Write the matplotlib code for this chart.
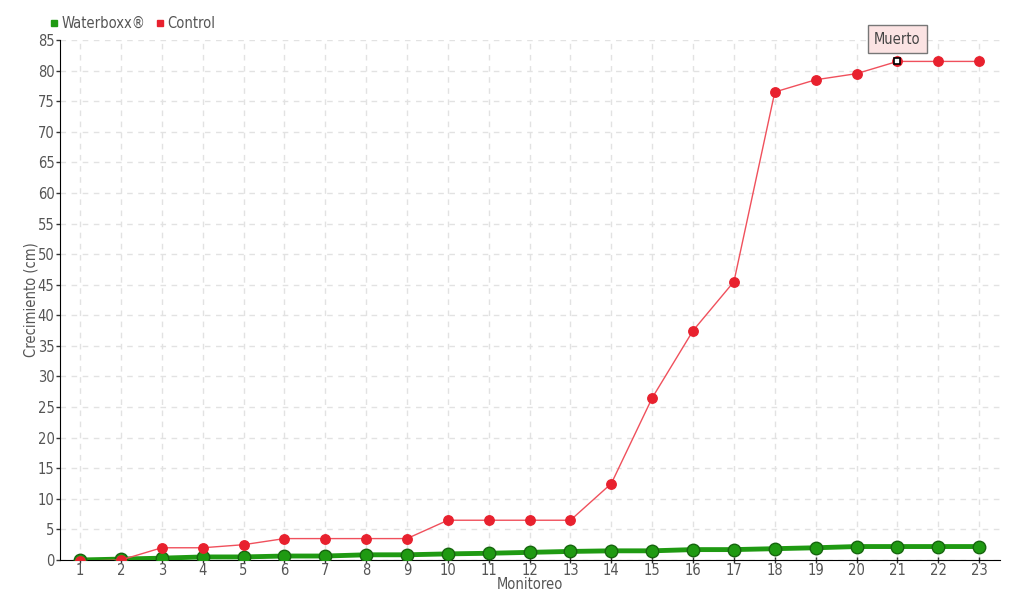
import matplotlib.pyplot as plt
from matplotlib.lines import Line2D

# Datos
monitoreo = list(range(1, 24))
waterboxx = [0.0, 0.15, 0.3, 0.5, 0.5, 0.65, 0.65, 0.85, 0.85, 1.0, 1.1, 1.25,
             1.4, 1.5, 1.5, 1.7, 1.7, 1.85, 2.0, 2.2, 2.2, 2.2, 2.2]
control = [-0.2, 0.0, 2.0, 2.0, 2.5, 3.5, 3.5, 3.5, 3.5, 6.5, 6.5, 6.5, 6.5,
           12.5, 26.5, 37.5, 45.5, 76.5, 78.5, 79.5, 81.5, 81.5, 81.5]
muerto_idx = 20  # monitoreo 21
yticks = list(range(0, 90, 5))

plt.rcParams['font.family'] = ['DejaVu Sans']
plt.rcParams['font.stretch'] = 'condensed'
gris = '#555555'

fig = plt.figure(figsize=(10.2, 6), dpi=100)
ax = fig.add_axes([60 / 1020, 40 / 600, 940 / 1020, 520 / 600])

verde = '#1f9a12'
rojo = '#e8212e'

ax.plot(monitoreo, waterboxx, color=verde, linewidth=3.5, marker='o', markersize=9,
        markerfacecolor='#1f9a12', markeredgecolor='#16650e', markeredgewidth=1, zorder=3)
ax.plot(monitoreo, control, color='#f0505c', linewidth=1, marker='o', markersize=6.8,
        markerfacecolor=rojo, markeredgecolor=rojo, zorder=4)

# punto marcado "Muerto"
ax.plot(monitoreo[muerto_idx], control[muerto_idx], marker='s', markersize=4.5,
        markerfacecolor='white', markeredgecolor='black', markeredgewidth=1.2, zorder=6)
ax.annotate('Muerto', xy=(monitoreo[muerto_idx], control[muerto_idx]),
            xytext=(0, 16), textcoords='offset points', ha='center', va='center',
            fontsize=10.5, color='#444444', zorder=7,
            bbox=dict(boxstyle='square,pad=0.45', fc='#fbe3e3', ec='#777777', lw=1))

ax.set_xlim(0.51, 23.51)
ax.set_ylim(0, 85)
ax.set_xticks(monitoreo)
ax.set_yticks(yticks)
ax.tick_params(axis='both', colors=gris, labelsize=10.5, width=1)
ax.tick_params(axis='x', direction='inout', length=5, pad=0, color='#333333')
ax.tick_params(axis='y', direction='out', length=3, pad=1, color='#333333')

ax.grid(True, linestyle=(0, (4, 4)), color='#e2e2e2', linewidth=1)
ax.set_axisbelow(True)
for s in ['top', 'right']:
    ax.spines[s].set_visible(False)
ax.spines['left'].set_color('black')
ax.spines['bottom'].set_color('black')

ax.set_xlabel('Monitoreo', fontsize=10.5, color=gris)
ax.xaxis.set_label_coords(0.5, -0.033)
ax.set_ylabel('Crecimiento (cm)', fontsize=10.5, color=gris)
ax.yaxis.set_label_coords(-0.023, 0.5)

handles = [Line2D([], [], marker='s', linestyle='', color=verde, markersize=5),
           Line2D([], [], marker='s', linestyle='', color=rojo, markersize=5)]
fig.legend(handles, ['Waterboxx®', 'Control'], loc='upper left',
           bbox_to_anchor=(0.033, 0.995), ncol=2, frameon=False, fontsize=10.5,
           labelcolor=gris, handletextpad=0.0, columnspacing=0.5, handlelength=1.0)

fig.savefig('out.png', dpi=100)
